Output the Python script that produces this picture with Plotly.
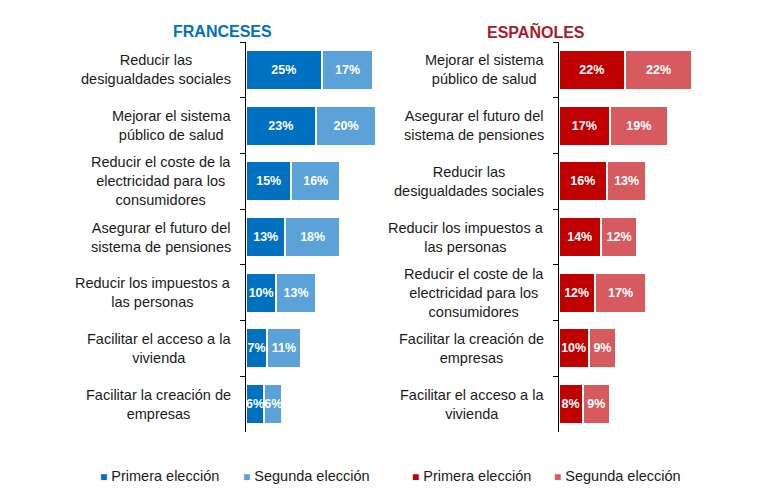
import plotly.graph_objects as go

# ---------------- data ----------------
fr_categories = [
    "Reducir las<br>desigualdades sociales",
    "Mejorar el sistema<br>público de salud",
    "Reducir el coste de la<br>electricidad para los<br>consumidores",
    "Asegurar el futuro del<br>sistema de pensiones",
    "Reducir los impuestos a<br>las personas",
    "Facilitar el acceso a la<br>vivienda",
    "Facilitar la creación de<br>empresas",
]
fr_primera = [25, 23, 15, 13, 10, 7, 6]
fr_segunda = [17, 20, 16, 18, 13, 11, 6]

es_categories = [
    "Mejorar el sistema<br>público de salud",
    "Asegurar el futuro del<br>sistema de pensiones",
    "Reducir las<br>desigualdades sociales",
    "Reducir los impuestos a<br>las personas",
    "Reducir el coste de la<br>electricidad para los<br>consumidores",
    "Facilitar la creación de<br>empresas",
    "Facilitar el acceso a la<br>vivienda",
]
es_primera = [22, 17, 16, 14, 12, 10, 8]
es_segunda = [22, 19, 13, 12, 17, 9, 9]

series_names = ["Primera elección", "Segunda elección"]
panel_titles = ["FRANCESES", "ESPAÑOLES"]

# ---------------- style ----------------
W, H = 763, 500
FONT = "Arial, Liberation Sans, sans-serif"
fr_colors = ["#0070C0", "#5BA2D8"]
es_colors = ["#C00000", "#D75A5F"]
title_colors = ["#0070C0", "#A81B2D"]

top, bottom = 42, 432
plot_h = bottom - top

def px_x(p):
    return p / W

def px_y(p):
    return (bottom - p) / plot_h

fig = go.Figure()

def add_panel(cats, prim, seg, colors, xa, ya, legends):
    for vals, col, name in zip([prim, seg], colors, series_names):
        fig.add_trace(go.Bar(
            y=cats, x=vals, orientation="h", name=name,
            marker=dict(color=col, line=dict(color="white", width=2)),
            text=[f"{v}%" for v in vals], textposition="inside",
            insidetextanchor="middle", constraintext="none", textangle=0,
            textfont=dict(color="white", size=12.5, family=FONT, weight="bold"),
            xaxis=xa, yaxis=ya, showlegend=False, hoverinfo="skip",
        ))
    # legend entries: coloured square glyph placed right before the text
    for col, name, lg in zip(colors, series_names, legends):
        fig.add_trace(go.Scatter(
            x=[None], y=[None], mode="markers",
            name=f"<span style='color:{col};font-size:12px'>■</span> {name}",
            marker=dict(symbol="square", size=1, color="rgba(0,0,0,0)"),
            xaxis=xa, yaxis=ya, legend=lg, showlegend=True,
        ))

add_panel(fr_categories, fr_primera, fr_segunda, fr_colors, "x", "y", ["legend", "legend2"])
add_panel(es_categories, es_primera, es_segunda, es_colors, "x2", "y2", ["legend3", "legend4"])

annotations = []
for cats, yref, xr in [(fr_categories, "y", 233), (es_categories, "y2", 546)]:
    for c in cats:
        annotations.append(dict(
            xref="paper", yref=yref, x=px_x(xr), y=c, text=c,
            xanchor="right", yanchor="middle", align="center", showarrow=False,
            font=dict(family=FONT, size=14.5, color="#1a1a1a"),
        ))
for t, cx, col in zip(panel_titles, [222.5, 535.5], title_colors):
    annotations.append(dict(
        xref="paper", yref="paper", x=px_x(cx), y=px_y(31), text=f"<b>{t}</b>",
        xanchor="center", yanchor="middle", showarrow=False,
        font=dict(family=FONT, size=16, color=col),
    ))

yaxis_common = dict(
    type="category", autorange="reversed", showline=True, linecolor="black",
    linewidth=1, ticks="outside", tickson="boundaries", ticklen=5,
    tickcolor="black", showticklabels=False, showgrid=False, zeroline=False,
)
legend_common = dict(
    orientation="h", yanchor="middle", y=px_y(475), xanchor="left",
    font=dict(family=FONT, size=14.5, color="#1a1a1a"),
    bgcolor="rgba(0,0,0,0)", borderwidth=0, itemclick=False,
)

fig.update_layout(
    width=W, height=H, barmode="stack", bargap=0.28,
    margin=dict(l=0, r=0, t=top, b=H - bottom, pad=0, autoexpand=False),
    paper_bgcolor="white", plot_bgcolor="white",
    font=dict(family=FONT),
    xaxis=dict(domain=[px_x(246), px_x(246 + 136.4)], range=[0, 45], visible=False),
    xaxis2=dict(domain=[px_x(558.5), px_x(710)], range=[0, 50], visible=False),
    yaxis=dict(anchor="x", **yaxis_common),
    yaxis2=dict(anchor="x2", **yaxis_common),
    legend=dict(x=px_x(60), **legend_common),
    legend2=dict(x=px_x(203), **legend_common),
    legend3=dict(x=px_x(372), **legend_common),
    legend4=dict(x=px_x(514), **legend_common),
    annotations=annotations,
    showlegend=True,
)

fig.write_html(
    "out.html",
    config={"displayModeBar": False},
    post_script="document.body.style.margin='0';document.body.style.overflow='hidden';",
)
